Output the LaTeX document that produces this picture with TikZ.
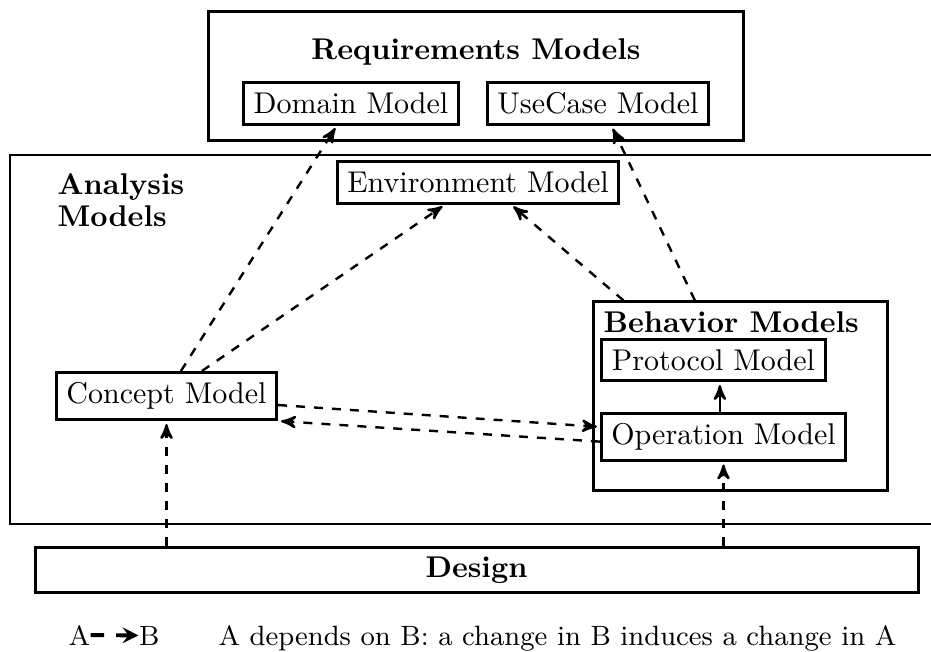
\documentclass[tikz,border=0pt]{standalone}
\usepackage{amsmath}
\usetikzlibrary{arrows}

\begin{document}
\begin{tikzpicture}[x=0.3333pt,y=-0.3333pt,->,>=stealth',shorten >=1pt,
        model/.style={draw,line width=1pt,inner sep=0.3333em},
        group/.style={draw,line width=1pt,inner sep=0pt},
        dep/.style={dashed,thick},
        title/.style={font=\bfseries,inner sep=0pt},
        key/.style={font=\fontsize{9.3}{11}\selectfont,inner sep=0pt}]

  \useasboundingbox (0,0) rectangle (931,651);

  % requirements
  \node[group,minimum width=178pt,minimum height=42.7pt] (reqs) at (476,76) {};
  \node[title,anchor=base] (reqtitle) at (476,59) {Requirements Models};
  \node[model] (domain) at (351,103.5) {Domain Model};
  \node[model] (usecase) at (598,103.5) {UseCase Model};

  % analysis
  \draw[-,semithick] (940,155) -- (10,155) -- (10,524) -- (940,524);
  \node[title,anchor=north west,align=left] (anatitle) at (57,173) {Analysis\\[-1.3pt]Models};
  \node[model] (env) at (478,182.5) {Environment Model};
  \node[model] (concept) at (166.5,396) {Concept Model};
  \node[group,minimum width=98.3pt,minimum height=62.7pt] (behavior) at (740.5,396) {};
  \node[title,anchor=base west] (behtitle) at (603,332) {Behavior Models};
  \node[model] (protocol) at (713.5,360) {Protocol Model};
  \node[model] (operation) at (723.5,436.5) {Operation Model};

  % design
  \node[group,minimum width=294.3pt,minimum height=15.3pt,font=\bfseries] (design) at (476.5,570) {Design};

  % legend
  \node[key,anchor=base west] (la) at (68,645) {A};
  \node[key,anchor=base east] (lb) at (160,645) {B};
  \node[key,anchor=base west] (legend) at (218,645) {A depends on B: a change in B induces a change in A};
  \draw[-stealth,line width=1.3pt,dash pattern=on 4.5pt off 4pt,shorten >=0pt] (la) -- (lb);

  \draw[dep] ([xshift=4.8pt]concept.north) -- ([xshift=-4.7pt]domain.south);
  \draw[dep] ([xshift=11.8pt]concept.north) -- ([xshift=-11pt]env.south);
  \draw[dep] ([xshift=-39pt]behavior.north) -- ([xshift=11pt]env.south);
  \draw[dep] ([xshift=-15.2pt]behavior.north) -- ([xshift=4.5pt]usecase.south);
  \draw[dep] ([yshift=-3pt]concept.east) -- ([yshift=3.2pt]operation.west);
  \draw[dep] ([yshift=-1.7pt]operation.west) -- (concept.south east);
  \draw[thick] ([xshift=-1.2pt]operation.north) -- ([xshift=-1.2pt]operation.north |- protocol.south);
  \draw[dep] (design.north -| concept.south) -- (concept.south);
  \draw[dep] (design.north -| operation.south) -- (operation.south);

\end{tikzpicture}
\end{document}
